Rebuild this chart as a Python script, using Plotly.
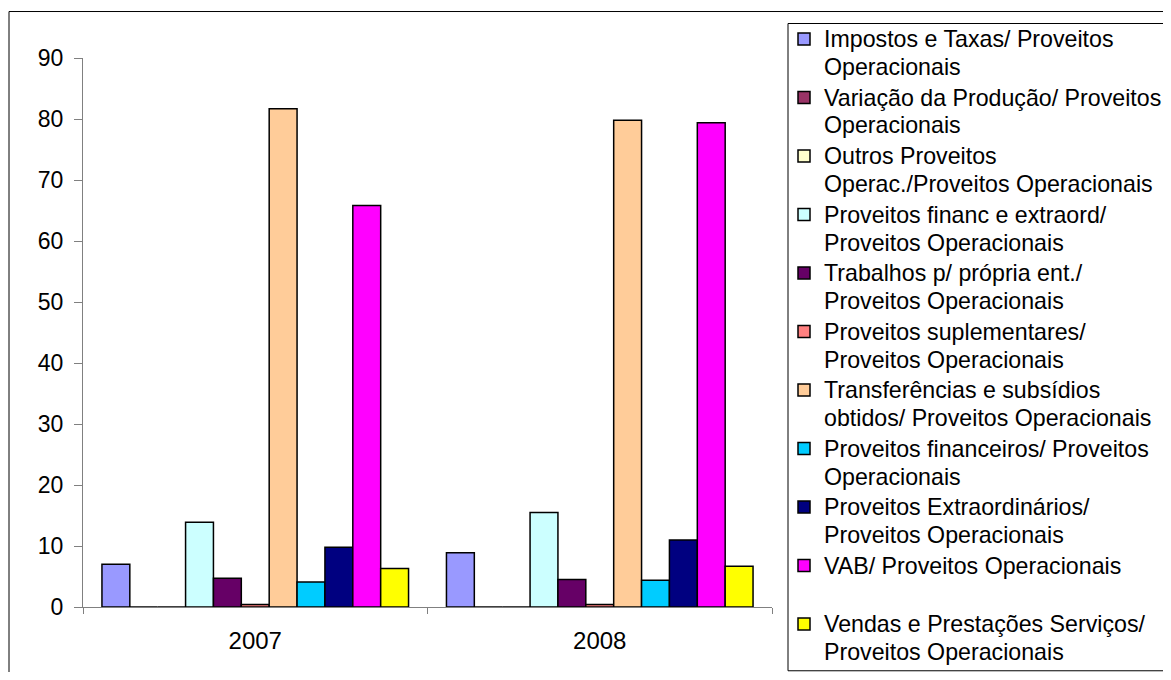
import plotly.graph_objects as go

years = ["2007", "2008"]

series_lines = [
    ["Impostos e Taxas/ Proveitos", "Operacionais"],
    ["Variação da Produção/ Proveitos", "Operacionais"],
    ["Outros Proveitos", "Operac./Proveitos Operacionais"],
    ["Proveitos financ e extraord/", "Proveitos Operacionais"],
    ["Trabalhos p/ própria ent./", "Proveitos Operacionais"],
    ["Proveitos suplementares/", "Proveitos Operacionais"],
    ["Transferências e subsídios", "obtidos/ Proveitos Operacionais"],
    ["Proveitos financeiros/ Proveitos", "Operacionais"],
    ["Proveitos Extraordinários/", "Proveitos Operacionais"],
    ["VAB/ Proveitos Operacionais", "&nbsp;"],
    ["Vendas e Prestações Serviços/", "Proveitos Operacionais"],
]

impostos = [7.0, 8.9]
variacao = [0.0, 0.0]
outros = [0.0, 0.0]
financ_extraord = [13.9, 15.5]
trabalhos = [4.7, 4.5]
suplementares = [0.4, 0.4]
transferencias = [81.7, 79.8]
financeiros = [4.1, 4.4]
extraordinarios = [9.8, 11.0]
vab = [65.8, 79.4]
vendas = [6.3, 6.7]

series_values = [impostos, variacao, outros, financ_extraord, trabalhos,
                 suplementares, transferencias, financeiros, extraordinarios,
                 vab, vendas]

colors = ["#9999FF", "#993366", "#FFFFCC", "#CCFFFF", "#660066", "#FF8080",
          "#FFCC99", "#00CCFF", "#000080", "#FF00FF", "#FFFF00"]

y_ticks = [0, 10, 20, 30, 40, 50, 60, 70, 80, 90]

FONT = "Liberation Sans, Arial, sans-serif"
LEG_GLYPH = 23.2


def legend_label(lines):
    return "<br>".join(
        f"<span style='font-size:{LEG_GLYPH}px'>{ln}</span>" for ln in lines)


fig = go.Figure()
for lines, vals, col in zip(series_lines, series_values, colors):
    fig.add_trace(go.Bar(
        x=years, y=vals, name=legend_label(lines),
        marker=dict(color=col, line=dict(color="black", width=1.5)),
    ))

# page offset of the plotly div (default body margin)
OFF = 8
W, H = 1171 - 2 * OFF, 680 - 2 * OFF
# desired page positions of plot area
PL, PR, PT, PB = 83, 772, 57.5, 606.7
L = PL - OFF
T = PT - OFF
pw = PR - PL
ph = PB - PT
R = W - L - pw
B = H - T - ph


def px_x(p):
    return (p - PL) / pw


def px_y(p):
    return (PB - p) / ph


fig.update_layout(
    width=W, height=H,
    margin=dict(l=L, r=R, t=T, b=B, pad=0, autoexpand=False),
    paper_bgcolor="white", plot_bgcolor="white",
    barmode="group", bargap=0.11, bargroupgap=0,
    font=dict(family=FONT, size=21, color="black"),
    xaxis=dict(
        type="category", showline=True, linecolor="#808080", linewidth=1,
        ticks="outside", tickson="boundaries", ticklen=6, tickcolor="#808080",
        tickfont=dict(size=24), showgrid=False, zeroline=False,
        ticklabelstandoff=12,
    ),
    yaxis=dict(
        range=[0, 90], tickvals=y_ticks, showline=True, linecolor="#808080",
        linewidth=1, ticks="outside", ticklen=8, tickcolor="#808080",
        tickfont=dict(size=23), showgrid=False, zeroline=False,
        ticklabelstandoff=6,
    ),
    legend=dict(
        x=px_x(784), y=px_y(18), xanchor="left", yanchor="top",
        borderwidth=0, bgcolor="rgba(0,0,0,0)",
        font=dict(family=FONT, size=21.35, color="black"),
        valign="top", traceorder="normal", maxheight=700,
    ),
    shapes=[
        dict(
            type="rect", xref="paper", yref="paper",
            x0=px_x(9), x1=px_x(1200), y0=px_y(720), y1=px_y(11),
            line=dict(color="black", width=1), fillcolor="rgba(0,0,0,0)",
            layer="below",
        ),
        dict(
            type="rect", xref="paper", yref="paper",
            x0=px_x(788), x1=px_x(1200), y0=px_y(670.5), y1=px_y(23),
            line=dict(color="black", width=1), fillcolor="rgba(0,0,0,0)",
            layer="above",
        ),
    ],
)

fig.write_html("out.html")
